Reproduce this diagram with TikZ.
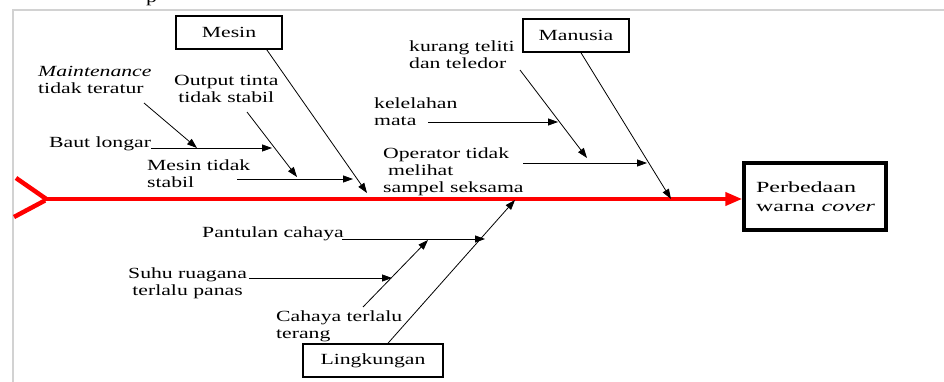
\documentclass[tikz,border=0pt]{standalone}
\usepackage{fontspec}
\setmainfont{Liberation Serif}[FakeStretch=1.4]
\newfontfamily\effectfont{Liberation Serif}[FakeStretch=1.55]
\usetikzlibrary{arrows.meta}
\begin{document}
\begin{tikzpicture}[x=1pt,y=-1pt,
  lbl/.style={font=\fontsize{15.5}{17}\selectfont, inner sep=0pt, align=left, anchor=west},
  catbox/.style={draw, line width=1.6pt, minimum width=106pt, minimum height=33pt,
                 font=\fontsize{15.5}{17}\selectfont, inner sep=0pt},
  effbox/.style={draw, line width=3.5pt, minimum height=67pt, text width=118pt,
                 inner xsep=12pt, align=left, font=\effectfont\fontsize{15.5}{19}\selectfont},
  bone/.style={line width=0.8pt, -{Triangle[length=10pt,width=7pt]}},
  sub/.style={line width=0.8pt, -{Triangle[length=10pt,width=7pt]}},
  spine/.style={draw=red, line width=4pt},
  frameline/.style={draw=gray!35, line width=1.5pt}
]
\useasboundingbox (0,0) rectangle (944,382);
\begin{scope}
\clip (0,0) rectangle (944,382);
\node[lbl, anchor=base west] (ptxt) at (146,2.5) {p};
\end{scope}
\draw[frameline] (13,382) -- (13,10) -- (944,10);

% category boxes and effect
\node[catbox] (mesin) at (229,32.5) {Mesin};
\node[catbox] (manusia) at (576,35.5) {Manusia};
\node[catbox, minimum width=140pt] (lingk) at (373,360.5) {Lingkungan};
\node[effbox] (effect) at (815,196.5) {Perbedaan\\\mbox{warna\hspace{7pt}\textit{cover}}};

% spine
\coordinate (tail) at (45,199);
\coordinate (tailA) at (16,178);
\coordinate (tailB) at (14,217);
\draw[spine, line width=4.5pt] (tailA) -- (47,199.5);
\draw[spine, line width=4.5pt] (tailB) -- (45,200.5);
\draw[spine, -{Triangle[length=17pt,width=13pt]}] (tail) -- (tail -| effect.west);

% main bones
\coordinate (mTip) at (367,193);
\coordinate (hTip) at (671,199);
\coordinate (lTip) at (515,200);
\draw[bone] ([xshift=-16pt]mesin.south east) -- (mTip);
\draw[bone] ([xshift=5pt]manusia.south) -- (hTip);
\draw[bone] ([xshift=15pt]lingk.north) -- (lTip);

% Mesin causes
\node[lbl] (maint) at (38,80) {\textit{Maintenance}\\tidak teratur};
\node[lbl, align=center] (output) at (174,89) {Output tinta\\tidak stabil};
\node[lbl, anchor=base west] (baut) at (49,148) {Baut longar};
\node[lbl] (mts) at (147,174) {Mesin tidak\\stabil};
\coordinate (bautTip) at (272,148);
\coordinate (maintS) at (144,103);
\coordinate (maintT) at (197,148);
\coordinate (outS) at (247,112);
\coordinate (outT) at (297,177);
\coordinate (mtsS) at (237,179);
\coordinate (mtsT) at (353,179);
\draw[sub] (baut.base east) -- (bautTip);
\draw[sub] (maintS) -- (maintT);
\draw[sub] (outS) -- (outT);
\draw[sub] (mtsS) -- (mtsT);

% Manusia causes
\node[lbl] (kurang) at (409,55) {kurang teliti\\dan teledor};
\node[lbl] (lelah) at (374,112) {kelelahan\\mata};
\node[lbl] (oper) at (383,172) {Operator tidak\\\hspace{5pt}melihat\\sampel seksama};
\coordinate (kurS) at (520,70);
\coordinate (kurT) at (587,158);
\coordinate (lelS) at (428,122);
\coordinate (lelT) at (558,122);
\coordinate (opS) at (523,163);
\coordinate (opT) at (647,163);
\draw[sub] (kurS) -- (kurT);
\draw[sub] (lelS) -- (lelT);
\draw[sub] (opS) -- (opT);

% Lingkungan causes
\node[lbl] (pant) at (202,234) {Pantulan cahaya};
\node[lbl, align=center] (suhu) at (128,283) {Suhu ruagana\\terlalu panas};
\node[lbl] (cahaya) at (276,326) {Cahaya terlalu\\terang};
\coordinate (panS) at (342,239);
\coordinate (panT) at (485,239);
\coordinate (suhS) at (249,278);
\coordinate (suhT) at (392,278);
\coordinate (cahS) at (363,307);
\coordinate (cahT) at (428,240);
\draw[sub] (panS) -- (panT);
\draw[sub] (suhS) -- (suhT);
\draw[sub] (cahS) -- (cahT);
\end{tikzpicture}
\end{document}
